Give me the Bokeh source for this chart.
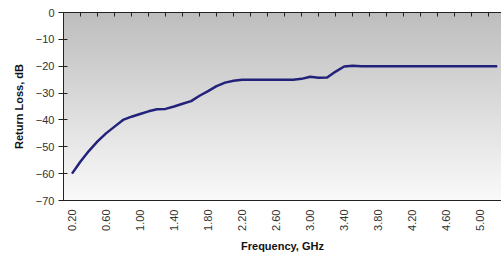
import numpy as np
from bokeh.plotting import figure
from bokeh.models import LinearAxis, FixedTicker, Range1d, CustomJSTickFormatter
from bokeh.embed import file_html
from bokeh.resources import INLINE

# Data (GHz, dB)
freq = [0.2, 0.3, 0.4, 0.5, 0.6, 0.7, 0.8, 0.9, 1.0, 1.1, 1.2, 1.3, 1.4, 1.5, 1.6,
        1.7, 1.8, 1.9, 2.0, 2.1, 2.2, 2.3, 2.4, 2.5, 2.6, 2.7, 2.8, 2.9, 3.0, 3.1,
        3.2, 3.3, 3.4, 3.5, 3.6, 3.7, 3.8, 3.9, 4.0, 4.1, 4.2, 4.3, 4.4, 4.5, 4.6,
        4.7, 4.8, 4.9, 5.0, 5.1, 5.2]
return_loss = [-60.0, -55.5, -51.5, -48.0, -45.0, -42.5, -40.0, -38.8, -37.8, -36.8,
               -36.0, -35.9, -35.0, -34.0, -33.0, -31.0, -29.3, -27.4, -26.1, -25.4,
               -25.0, -25.0, -25.0, -25.0, -25.0, -25.0, -25.0, -24.7, -23.9, -24.3,
               -24.2, -22.0, -20.1, -19.8, -20.0, -20.0, -20.0, -20.0, -20.0, -20.0,
               -20.0, -20.0, -20.0, -20.0, -20.0, -20.0, -20.0, -20.0, -20.0, -20.0,
               -20.0]
x_label_ticks = [0.2, 0.6, 1.0, 1.4, 1.8, 2.2, 2.6, 3.0, 3.4, 3.8, 4.2, 4.6, 5.0]
category_bounds = [0.1 + 0.2 * i for i in range(27)]
y_ticks = [0, -10, -20, -30, -40, -50, -60, -70]

FONT = "Liberation Sans"
X0, X1 = 0.1, 5.25
Y0, Y1 = -70, 0

p = figure(width=501, height=256, output_backend="svg", toolbar_location=None,
           x_range=Range1d(X0, X1), y_range=Range1d(Y0, Y1),
           min_border_left=63, min_border_right=0, min_border_top=12,
           min_border_bottom=56, x_axis_location="below")
p.outline_line_color = None
p.background_fill_color = None
p.border_fill_color = "white"
p.grid.visible = False

# gradient background
n = 200
t = np.linspace(0, 1, n)[:, None]  # 0 bottom -> 1 top
r = (250 - 60 * t).astype(np.uint8)
img = np.zeros((n, 2), dtype=np.uint32)
view = img.view(dtype=np.uint8).reshape((n, 2, 4))
view[:, :, 0] = r
view[:, :, 1] = r
view[:, :, 2] = r
view[:, :, 3] = 255
p.image_rgba(image=[img], x=X0, y=Y0, dw=X1 - X0, dh=Y1 - Y0, level="image")

p.line(freq, return_loss, line_color="#22227a", line_width=2.5)

# bottom axis
xa = p.xaxis[0]
xa.ticker = FixedTicker(ticks=x_label_ticks)
xa.formatter = CustomJSTickFormatter(code="return tick.toFixed(2);")
xa.major_label_orientation = np.pi / 2
xa.major_tick_in = 0
xa.major_tick_out = 0
xa.minor_tick_line_color = None
xa.axis_line_color = "#222222"
xa.major_label_standoff = 9
xa.major_label_text_font = FONT
xa.major_label_text_font_size = "11px"
xa.major_label_text_color = "#333333"
xa.axis_label = "Frequency, GHz"
xa.axis_label_text_font = FONT
xa.axis_label_text_font_size = "11px"
xa.axis_label_text_font_style = "bold"
xa.axis_label_text_color = "#111111"
xa.axis_label_standoff = 6

# top axis (tick marks between categories)
ta = LinearAxis(ticker=FixedTicker(ticks=category_bounds),
                formatter=CustomJSTickFormatter(code="return '';"),
                major_tick_in=4, major_tick_out=0, minor_tick_line_color=None,
                major_label_standoff=0,
                axis_line_color="#222222", major_tick_line_color="#222222")
p.add_layout(ta, "above")

# y axis
ya = p.yaxis[0]
ya.ticker = FixedTicker(ticks=y_ticks)
ya.major_tick_in = 4
ya.major_tick_out = 5
ya.minor_tick_line_color = None
ya.axis_line_color = "#222222"
ya.major_tick_line_color = "#222222"
ya.major_label_standoff = 4
ya.major_label_text_font = FONT
ya.major_label_text_font_size = "11px"
ya.major_label_text_color = "#333333"
ya.axis_label = "Return Loss, dB"
ya.axis_label_text_font = FONT
ya.axis_label_text_font_size = "11px"
ya.axis_label_text_font_style = "bold"
ya.axis_label_text_color = "#111111"
ya.axis_label_standoff = 8

open("out.html", "w").write(file_html(p, INLINE))
